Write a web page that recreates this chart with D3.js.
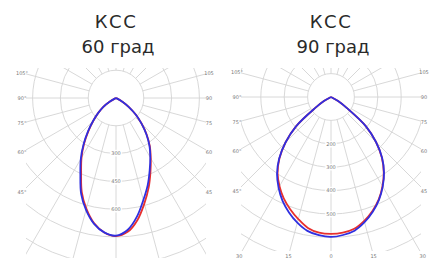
<!DOCTYPE html>
<html>
<head>
<meta charset="utf-8">
<script src="https://cdn.jsdelivr.net/npm/d3@7/dist/d3.min.js"></script>
<style>
  body { margin: 0; background: #fff; }
  svg { display: block; }
  .title { font-family: "DejaVu Sans", sans-serif; fill: #2a2a2a; text-anchor: middle; }
  .tick { font-family: "DejaVu Sans", sans-serif; font-size: 5px; fill: #777; text-anchor: middle; }
</style>
</head>
<body>
<script>
//angles in degrees from nadir, positive = left half of the diagram
var angles = [90, 85, 80, 75, 70, 65, 60, 55, 50, 45, 40, 35, 30, 25, 20, 15, 10, 5, 0,
              -5, -10, -15, -20, -25, -30, -35, -40, -45, -50, -55, -60, -65, -70, -75, -80, -85, -90];
//intensity values (cd)
var red60  = [0, 0, 0, 0, 0, 2, 40, 85, 125, 172, 230, 300, 372, 445, 540, 618, 685, 728, 745,
              725, 668, 590, 515, 440, 375, 318, 257, 195, 140, 85, 42, 2, 0, 0, 0, 0, 0];
var blue60 = [0, 0, 0, 0, 0, 2, 40, 85, 125, 175, 235, 305, 380, 455, 550, 625, 688, 728, 743,
              715, 650, 570, 500, 430, 370, 315, 255, 195, 140, 85, 42, 2, 0, 0, 0, 0, 0];
var red90  = [0, 0, 0, 0, 0, 2, 35, 85, 195, 275, 343, 398, 440, 478, 510, 540, 568, 582, 585,
              582, 572, 548, 518, 483, 440, 393, 338, 272, 195, 85, 35, 2, 0, 0, 0, 0, 0];
var blue90 = [0, 0, 0, 0, 0, 2, 35, 85, 195, 275, 345, 402, 448, 490, 525, 556, 581, 593, 598,
              592, 580, 554, 522, 485, 442, 395, 340, 272, 195, 85, 35, 2, 0, 0, 0, 0, 0];
var titleTop = "КСС";
var titles = ["60 град", "90 град"];
var ringLabels60 = [300, 450, 600];
var ringLabels90 = [200, 300, 400, 500];
var sideTicks = [105, 90, 75, 60, 45];
var bottomTicks = [30, 15, 0, -15, -30];

var width = 433, height = 258;
var svg = d3.select("body").append("svg")
  .attr("width", width)
  .attr("height", height);

var panels = [
  {cx: 116, cy: 98, step: 150, stepPx: 27.8, red: red60, blue: blue60, rings: ringLabels60, title: titles[0], bottom: false, clipH: 192},
  {cx: 331, cy: 97, step: 100, stepPx: 23.4, red: red90, blue: blue90, rings: ringLabels90, title: titles[1], bottom: true, clipH: 183}
];

panels.forEach(function(p, k){
  var g = svg.append("g");
  var r = d3.scaleLinear().domain([0, p.step]).range([0, p.stepPx]);
  var half = 90;
  var rad = Math.PI / 180;

  //clip the grid to the square frame
  var clipId = "clip" + k;
  svg.append("clipPath").attr("id", clipId)
    .append("rect")
    .attr("x", p.cx - half).attr("y", 68)
    .attr("width", half * 2).attr("height", p.clipH);

  var grid = g.append("g").attr("clip-path", "url(#" + clipId + ")")
    .append("g")
    .attr("transform", "translate(" + p.cx + "," + p.cy + ")");

  //rings
  grid.selectAll("circle")
    .data(d3.range(1, 9))
    .enter().append("circle")
    .attr("r", function(d){ return r(d * p.step); })
    .attr("fill", "none")
    .attr("stroke", "#d4d4d4")
    .attr("stroke-width", 0.9);

  //spokes every 15 degrees, starting at the first ring
  grid.selectAll("line")
    .data(d3.range(0, 360, 15))
    .enter().append("line")
    .attr("x1", function(d){ return -r(p.step) * Math.sin(d * rad); })
    .attr("y1", function(d){ return r(p.step) * Math.cos(d * rad); })
    .attr("x2", function(d){ return -300 * Math.sin(d * rad); })
    .attr("y2", function(d){ return 300 * Math.cos(d * rad); })
    .attr("stroke", "#d4d4d4")
    .attr("stroke-width", 0.9);

  //ring labels on the vertical axis
  grid.selectAll(".rl")
    .data(p.rings)
    .enter().append("text")
    .attr("class", "tick")
    .attr("x", 0)
    .attr("y", function(d){ return r(d) + 1.8; })
    .attr("stroke", "#fff").attr("stroke-width", 3)
    .attr("paint-order", "stroke")
    .text(function(d){ return d; });

  //angle labels on the frame edges
  var d0 = 94;
  sideTicks.forEach(function(a){
    var dy = d0 / Math.tan(a * rad);
    g.append("text").attr("class", "tick")
      .attr("x", p.cx - d0).attr("y", p.cy + dy + 1.8)
      .text(a + "°");
    g.append("text").attr("class", "tick")
      .attr("x", p.cx + d0 - 1).attr("y", p.cy + dy + 1.8)
      .text(a);
  });
  if (p.bottom) {
    var by = 256 - p.cy;
    bottomTicks.forEach(function(a){
      g.append("text").attr("class", "tick")
        .attr("x", p.cx - by * Math.tan(a * rad))
        .attr("y", 256 + 1.8)
        .text(Math.abs(a));
    });
  }

  //curves
  var line = d3.lineRadial()
    .angle(function(d){ return Math.PI + d[0] * rad; })
    .radius(function(d){ return r(d[1]); })
    .curve(d3.curveCatmullRom);

  var curves = g.append("g").attr("transform", "translate(" + p.cx + "," + p.cy + ")");
  [["red", p.red, "#e8302e"], ["blue", p.blue, "#2f2fe0"]].forEach(function(s){
    curves.append("path")
      .datum(angles.map(function(a, i){ return [a, s[1][i]]; }).filter(function(d){ return d[1] > 0; }))
      .attr("d", function(d){ return line([[90, 0]].concat(d, [[-90, 0]])); })
      .attr("fill", "none")
      .attr("stroke", s[2])
      .attr("stroke-width", 1.8)
      .attr("stroke-linejoin", "round");
  });

  //titles
  g.append("text").attr("class", "title")
    .attr("x", p.cx).attr("y", 28)
    .style("font-size", "18px")
    .style("letter-spacing", "1.5px")
    .text(titleTop);
  g.append("text").attr("class", "title")
    .attr("x", p.cx + 2).attr("y", 53)
    .style("font-size", "18px")
    .text(p.title);
});
</script>
</body>
</html>
